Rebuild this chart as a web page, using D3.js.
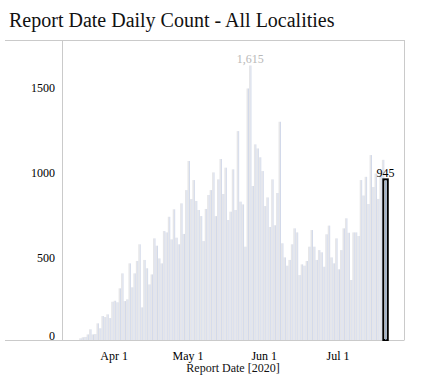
<!DOCTYPE html>
<html>
<head>
<meta charset="utf-8">
<script src="https://cdn.jsdelivr.net/npm/d3@7"></script>
<style>
  body { margin: 0; background: #fff; }
  svg { display: block; font-family: "Liberation Serif", "Times New Roman", serif; }
</style>
</head>
<body>
<div id="chart"></div>
<script>
// daily report counts, one per day starting at firstDay
const firstDay = "2020-03-18";
const dailyCounts = [
  10, 16, 18, 33, 63, 33, 35, 98, 69, 141, 135, 151, 129, 225, 231, 222, 304, 392, 229, 239,
  451, 310, 392, 465, 563, 192, 471, 422, 327, 386, 598, 555, 480, 451, 641, 633, 725, 592, 769, 602, 563,
  804, 624, 882, 1053, 829, 941, 818, 765, 729, 582, 771, 853, 882, 986, 729, 945, 1065, 859, 1014, 706, 755,
  1004, 765, 1229, 814, 798, 549, 1480, 1615, 906, 1151, 1127, 1075, 994, 788, 839, 665, 945, 675, 865, 1284, 569,
  486, 437, 471, 563, 657, 633, 382, 445, 437, 465, 549, 647, 549, 471, 529, 516, 431, 622, 673, 486, 451, 598,
  416, 529, 657, 716, 631, 353, 633, 633, 612, 941, 850, 960, 800, 1088, 900, 980, 830, 1000, 1060, 945
];
const yTicks = [0, 500, 1000, 1500];
const xTickDates = ["2020-04-01", "2020-05-01", "2020-06-01", "2020-07-01"];
const xDomain = ["2020-03-11", "2020-07-28"];
const chartTitle = "Report Date Daily Count - All Localities";
const xTitle = "Report Date [2020]";

const width = 429, height = 390;
const margin = { top: 40, right: 25, bottom: 50, left: 62 };
const plotBottom = height - margin.bottom;
const plotRight = width - margin.right;

const parse = d3.utcParse("%Y-%m-%d");
const start = parse(firstDay);
const days = dailyCounts.map((v, i) => ({ date: d3.utcDay.offset(start, i), value: v }));

const x = d3.scaleUtc().domain(xDomain.map(parse)).range([margin.left, plotRight]);
const y = d3.scaleLinear().domain([0, 1765]).range([plotBottom, margin.top]);

const svg = d3.select("#chart").append("svg")
  .attr("width", width)
  .attr("height", height);

svg.append("text")
  .attr("x", 9)
  .attr("y", 27)
  .attr("font-size", 20)
  .attr("fill", "#111")
  .text(chartTitle);

// frame
const frame = svg.append("g").attr("stroke", "#cacaca").attr("stroke-width", 1);
frame.append("line").attr("x1", 5).attr("x2", plotRight + 0.5).attr("y1", margin.top + 0.5).attr("y2", margin.top + 0.5);
frame.append("line").attr("x1", 5).attr("x2", plotRight + 0.5).attr("y1", plotBottom + 0.5).attr("y2", plotBottom + 0.5);
frame.append("line").attr("x1", margin.left + 0.5).attr("x2", margin.left + 0.5).attr("y1", margin.top).attr("y2", plotBottom);
frame.append("line").attr("x1", plotRight + 0.5).attr("x2", plotRight + 0.5).attr("y1", margin.top).attr("y2", plotBottom);

const last = days[days.length - 1];
const peak = days.reduce((a, b) => (b.value > a.value ? b : a));

const bars = svg.append("g");
const bw = d => x(d3.utcDay.offset(d.date, 1)) - x(d.date);

bars.selectAll(".bar")
  .data(days.slice(0, -1))
  .enter().append("rect")
  .attr("class", "bar")
  .attr("x", d => x(d.date))
  .attr("width", d => bw(d) * 0.6)
  .attr("y", d => y(d.value))
  .attr("height", d => plotBottom - y(d.value))
  .attr("fill", "#e6e6e8");

bars.selectAll(".edge")
  .data(days.slice(0, -1))
  .enter().append("rect")
  .attr("class", "edge")
  .attr("x", d => x(d.date) + bw(d) * 0.6)
  .attr("width", d => bw(d) * 0.4)
  .attr("y", d => y(d.value))
  .attr("height", d => plotBottom - y(d.value))
  .attr("fill", "#d2d9ea");

// highlighted latest day
svg.append("rect")
  .attr("x", x(last.date) - 1)
  .attr("width", bw(last) + 2)
  .attr("y", y(last.value))
  .attr("height", plotBottom - y(last.value))
  .attr("fill", "#fff")
  .attr("stroke", "#000")
  .attr("stroke-width", 2);
svg.append("rect")
  .attr("x", x(last.date) + bw(last) * 0.35)
  .attr("width", 1.2)
  .attr("y", y(last.value) + 1)
  .attr("height", plotBottom - y(last.value) - 1)
  .attr("fill", "#8aa2c4");

svg.append("text")
  .attr("x", x(last.date) + bw(last) / 2)
  .attr("y", y(last.value) - 2)
  .attr("text-anchor", "middle")
  .attr("font-size", 12)
  .attr("fill", "#000")
  .text(d3.format(",")(last.value));

svg.append("text")
  .attr("x", x(peak.date) + bw(peak) / 2)
  .attr("y", y(peak.value) - 2)
  .attr("text-anchor", "middle")
  .attr("font-size", 12)
  .attr("fill", "#b8b8b8")
  .text(d3.format(",")(peak.value));

// axes
const yAxis = svg.append("g")
  .attr("transform", `translate(${margin.left},0)`)
  .call(d3.axisLeft(y).tickValues(yTicks).tickSize(0).tickPadding(7).tickFormat(d3.format("d")))
  .attr("font-family", null)
  .attr("font-size", 12);
yAxis.select(".domain").remove();
yAxis.selectAll("text")
  .attr("fill", "#000")
  .attr("dy", d => (d === 0 ? "-0.05em" : "0.5em"));

const xAxis = svg.append("g")
  .attr("transform", `translate(0,${plotBottom})`)
  .call(d3.axisBottom(x).tickValues(xTickDates.map(parse)).tickSize(0).tickPadding(11)
    .tickFormat(d3.utcFormat("%b %-d")))
  .attr("font-family", null)
  .attr("font-size", 12);
xAxis.select(".domain").remove();
xAxis.selectAll("text").attr("fill", "#000");

svg.append("text")
  .attr("x", (margin.left + plotRight) / 2)
  .attr("y", 372)
  .attr("text-anchor", "middle")
  .attr("font-size", 12)
  .attr("fill", "#111")
  .text(xTitle);
</script>
</body>
</html>
